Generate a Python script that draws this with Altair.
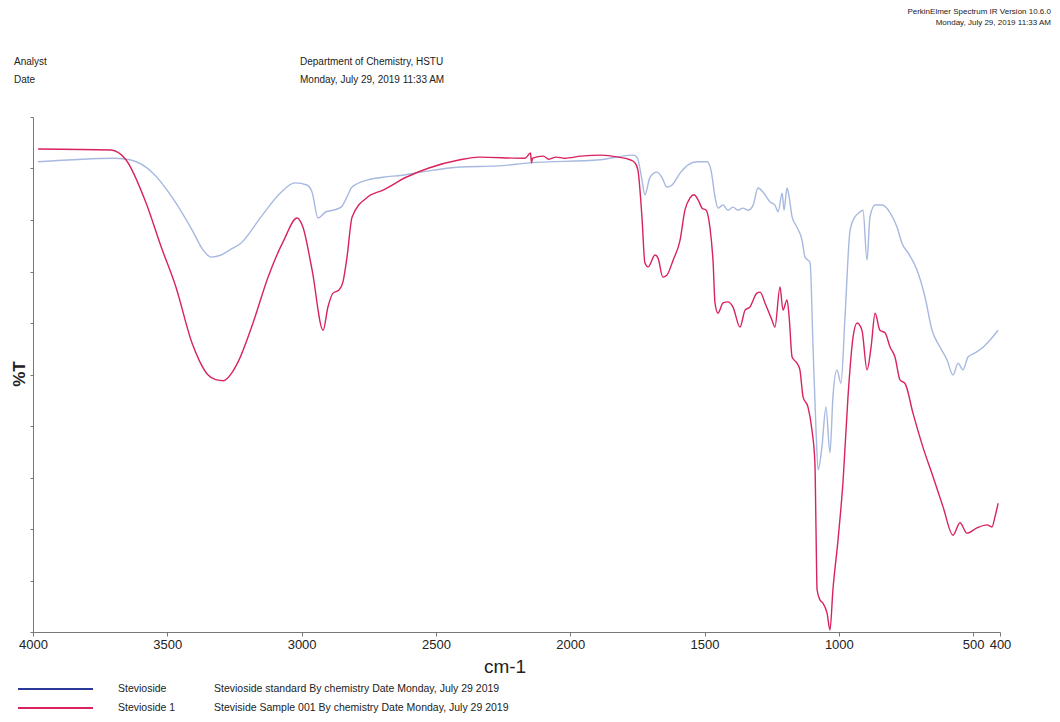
import altair as alt
import pandas as pd

# ---- data (wavenumber cm-1, %T) ----
std_wn = [3981, 3695, 3639, 3553, 3483, 3408, 3367, 3337, 3300, 3267, 3226, 3151, 3080, 3025, 2980, 2961,
          2939, 2909, 2883, 2853, 2831, 2812, 2753, 2697, 2626, 2556, 2410, 2269, 2153, 1889, 1766,
          1751, 1733, 1722, 1703, 1677, 1658, 1640, 1621, 1591, 1561, 1528, 1491, 1476, 1461, 1450,
          1431, 1413, 1394, 1375, 1357, 1338, 1319, 1301, 1282, 1256, 1238, 1226, 1211, 1204, 1193,
          1185, 1174, 1156, 1137, 1126, 1115, 1107, 1096, 1085, 1077, 1063, 1048, 1033, 1022, 1007,
          992, 977, 958, 940, 925, 910, 895, 884, 865, 839, 809, 783, 765, 742, 709, 679, 653, 623,
          597, 575, 556, 538, 519, 493, 463, 437, 407]
std_t = [91.3, 92.0, 91.7, 89.1, 84.5, 78.1, 74.2, 72.8, 73.2, 74.2, 75.5, 80.6, 85.2, 87.2, 86.8, 85.4,
         80.4, 81.6, 81.9, 82.5, 84.5, 86.4, 87.8, 88.3, 88.7, 89.3, 90.3, 90.5, 91.1, 91.7, 92.6,
         92.2, 87.8, 84.9, 88.3, 89.3, 88.2, 86.4, 86.8, 89.1, 90.7, 91.3, 91.3, 89.7, 84.5, 82.3,
         82.9, 81.9, 82.5, 81.9, 82.3, 81.9, 82.9, 86.2, 85.4, 83.5, 82.9, 81.6, 85.2, 81.9, 86.2,
         84.5, 80.6, 78.6, 76.1, 72.8, 72.2, 71.7, 55.3, 39.2, 31.5, 35.9, 43.7, 34.8, 45.6, 50.9,
         48.3, 61.2, 78.1, 80.6, 81.4, 81.9, 72.2, 80.6, 82.9, 82.9, 81.4, 78.6, 75.5, 73.6, 70.3,
         65.0, 58.6, 55.3, 52.8, 49.9, 52.2, 50.9, 53.4, 54.2, 55.3, 56.7, 58.6]

smp_wn = [3981, 3710, 3654, 3579, 3523, 3468, 3408, 3380, 3350, 3320, 3290, 3260, 3237, 3181, 3125, 3066, 3017,
          2995, 2961, 2920, 2902, 2883, 2861, 2846, 2831, 2812, 2753, 2697, 2611, 2526, 2410, 2340,
          2168, 2148, 2144, 2140, 2100, 2080, 2053, 2020, 1960, 1885, 1820, 1777, 1759, 1748, 1733,
          1722, 1710, 1684, 1673, 1655, 1640, 1617, 1591, 1573, 1554, 1539, 1524, 1509, 1494, 1480,
          1468, 1461, 1450, 1431, 1413, 1394, 1368, 1349, 1331, 1305, 1293, 1275, 1249, 1238, 1219,
          1208, 1193, 1185, 1174, 1156, 1145, 1133, 1115, 1100, 1089, 1085, 1081, 1070, 1059, 1044,
          1033, 1022, 1003, 984, 966, 947, 932, 914, 895, 880, 865, 847, 828, 809, 791, 772, 754,
          724, 687, 649, 612, 575, 549, 523, 486, 448, 430, 419, 407]
smp_t = [93.8, 93.6, 91.7, 83.3, 74.8, 67.0, 56.1, 52.6, 50.0, 49.0, 48.8, 50.3, 52.4, 60.0, 68.9, 76.1, 80.4,
         78.6, 70.3, 58.6, 63.1, 65.8, 66.4, 68.0, 72.8, 80.6, 84.5, 85.8, 88.3, 90.1, 91.7, 92.2,
         92.0, 93.0, 91.1, 92.0, 92.4, 91.8, 92.2, 92.0, 92.4, 92.6, 92.2, 91.7, 91.1, 89.7, 80.6,
         71.7, 70.9, 73.2, 72.6, 68.9, 69.3, 72.2, 76.1, 81.9, 84.3, 84.9, 83.9, 82.3, 81.9, 78.6,
         71.7, 63.9, 61.9, 63.9, 64.1, 63.1, 59.2, 62.5, 63.1, 65.8, 66.0, 63.9, 60.6, 59.2, 67.0,
         62.5, 64.5, 61.2, 53.4, 52.2, 50.9, 45.6, 43.7, 39.2, 32.8, 20.0, 8.2, 6.2, 5.6, 3.7,
         0.4, 8.2, 17.9, 29.5, 45.6, 57.3, 60.0, 58.6, 50.9, 55.3, 61.9, 58.6, 58.1, 55.3, 53.4, 48.9, 48.3,
         42.5, 35.9, 30.1, 24.3, 18.8, 21.2, 19.2, 20.2, 20.8, 20.4, 22.3, 25.0]

series_names = ["Stevioside", "Stevioside 1"]
series_colors = ["#a7b9e0", "#d8235c"]
legend_colors = ["#2b3a98", "#d8235c"]
legend_desc = ["Stevioside standard By chemistry Date Monday, July 29 2019",
               "Steviside Sample 001 By chemistry Date Monday, July 29 2019"]
x_ticks = [4000, 3500, 3000, 2500, 2000, 1500, 1000, 500, 400]
y_ticks = [0, 10, 20, 30, 40, 50, 60, 70, 80, 90, 100]

df = pd.concat([
    pd.DataFrame({"wn": std_wn, "T": std_t, "series": series_names[0], "order": range(len(std_wn))}),
    pd.DataFrame({"wn": smp_wn, "T": smp_t, "series": series_names[1], "order": range(len(smp_wn))}),
])

FONT = "Liberation Sans"
W, H = 967, 515

lines = alt.Chart(df).mark_line(strokeWidth=1.4, interpolate="monotone").encode(
    x=alt.X("wn:Q",
            scale=alt.Scale(domain=[400, 4000], reverse=True, nice=False, zero=False),
            axis=alt.Axis(values=x_ticks, format="d", labelOverlap=False, grid=False,
                          tickSize=4, tickColor="#777", domainColor="#777",
                          labelFontSize=13, labelColor="#222", labelFont=FONT, labelPadding=2,
                          labelFlush=False, title=None)),
    y=alt.Y("T:Q", scale=alt.Scale(domain=[0, 100], nice=False, zero=False),
            axis=alt.Axis(values=y_ticks, labels=False, title=None, grid=False,
                          tickSize=3, tickColor="#777", domainColor="#777")),
    color=alt.Color("series:N", scale=alt.Scale(domain=series_names, range=series_colors), legend=None),
    order="order:Q",
    detail="series:N",
)


def txt(s, x, y, size=10, align="left", weight="normal", angle=0, color="#222"):
    kw = dict(fontSize=size, align=align, baseline="middle", font=FONT, fontWeight=weight, color=color)
    if angle:
        kw["angle"] = angle
    return alt.Chart(pd.DataFrame({"t": [s]})).mark_text(**kw).encode(
        text="t:N", x=alt.value(x), y=alt.value(y))


def rule(x1, x2, y, color):
    return alt.Chart(pd.DataFrame({"t": [0]})).mark_rule(color=color, strokeWidth=2.2).encode(
        x=alt.value(x1), x2=alt.value(x2), y=alt.value(y))


layers = [lines,
          txt("Analyst", -19, -55), txt("Date", -19, -37),
          txt("Department of Chemistry, HSTU", 267, -55),
          txt("Monday, July 29, 2019 11:33 AM", 267, -37),
          txt("PerkinElmer Spectrum IR Version 10.6.0", 1018, -105, size=8, align="right"),
          txt("Monday, July 29, 2019 11:33 AM", 1018, -94, size=8, align="right"),
          txt("%T", -13, 257, size=17, align="center", weight="bold", angle=270),
          txt("cm-1", 472, 550, size=19, align="center"),
          rule(-15, 60, 572, legend_colors[0]), rule(-15, 60, 591, legend_colors[1]),
          txt(series_names[0], 85, 572, size=10.5), txt(series_names[1], 85, 591, size=10.5),
          txt(legend_desc[0], 181, 572, size=10.5), txt(legend_desc[1], 181, 591, size=10.5),
          ]

chart = alt.layer(*layers).properties(
    width=W, height=H,
    background="white",
    autosize=alt.AutoSizeParams(type="none"),
    padding={"left": 25, "top": 109, "right": 52, "bottom": 82},
).configure_view(stroke=None)

chart.save("out.html", embed_options={"renderer": "svg", "actions": False})
